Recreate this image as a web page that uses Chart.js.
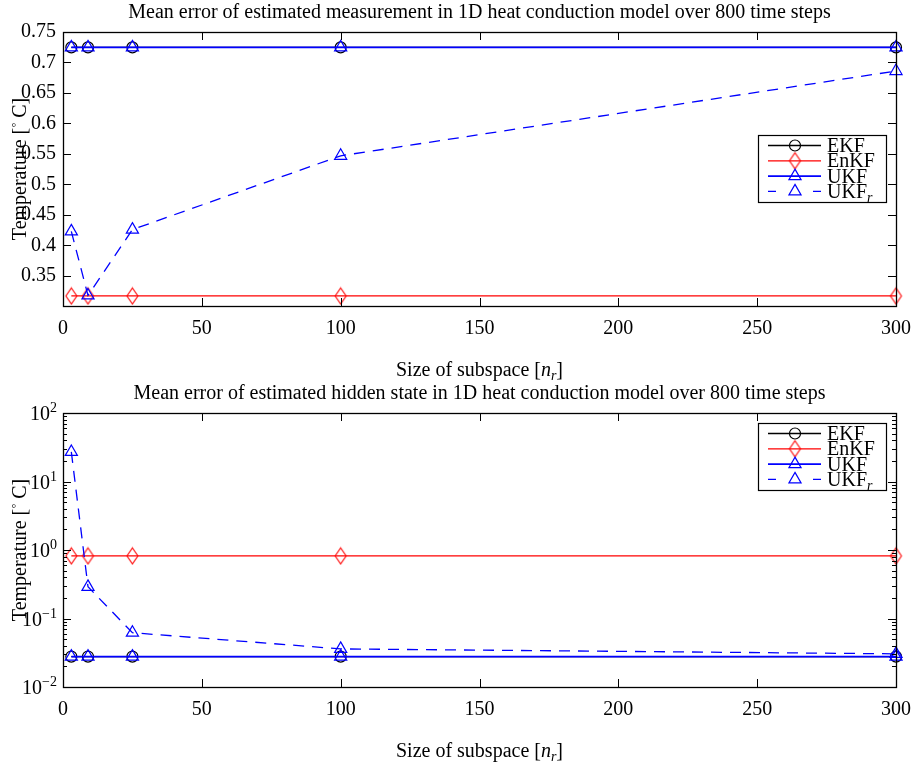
<!DOCTYPE html>
<html>
<head>
<meta charset="utf-8">
<script src="https://cdn.jsdelivr.net/npm/chart.js@4/dist/chart.umd.min.js"></script>
<style>
  html, body { margin: 0; padding: 0; background: #fff; }
  #wrap { position: relative; width: 914px; height: 764px; }
  .pane { position: absolute; left: 0; width: 914px; height: 382px; }
  #p1 { top: 0; }
  #p2 { top: 381px; }
</style>
</head>
<body>
<div id="wrap">
  <div class="pane" id="p1"><canvas id="c1"></canvas></div>
  <div class="pane" id="p2"><canvas id="c2"></canvas></div>
</div>
<script>
// Subspace sizes n_r
const subspaceSizes = [3, 9, 25, 100, 300];

// Mean error of estimated measurement [°C]
const measEKF  = [0.7248, 0.7248, 0.7248, 0.7248, 0.7248];
const measEnKF = [0.3172, 0.3172, 0.3172, 0.3172, 0.3172];
const measUKF  = [0.7248, 0.7248, 0.7248, 0.7248, 0.7248];
const measUKFr = [0.423, 0.318, 0.426, 0.547, 0.686];

// Mean error of estimated hidden state [°C]
const hiddenEKF  = [0.0278, 0.0278, 0.0278, 0.0278, 0.0278];
const hiddenEnKF = [0.82, 0.82, 0.82, 0.82, 0.82];
const hiddenUKF  = [0.0278, 0.0278, 0.0278, 0.0278, 0.0278];
const hiddenUKFr = [27, 0.29, 0.062, 0.036, 0.0305];

// Tick values
const xTicks = [0, 50, 100, 150, 200, 250, 300];
const measTicks = [0.35, 0.4, 0.45, 0.5, 0.55, 0.6, 0.65, 0.7, 0.75];
const hiddenTicks = [0.01, 0.1, 1, 10, 100];
const hiddenTickExponents = ['\u22122', '\u22121', '0', '1', '2'];

const FONT = "'Liberation Serif', 'DejaVu Serif', serif";
const TXT = 20;
Chart.defaults.font.family = FONT;
Chart.defaults.font.size = TXT;
Chart.defaults.color = '#000';
Chart.defaults.animation = false;

// Tall diamond marker for EnKF
function diamondMarker(color) {
  const c = document.createElement('canvas');
  c.width = 15; c.height = 19;
  const g = c.getContext('2d');
  g.strokeStyle = color; g.lineWidth = 1.1;
  g.beginPath();
  g.moveTo(7.5, 1.5); g.lineTo(13, 9.5); g.lineTo(7.5, 17.5); g.lineTo(2, 9.5); g.closePath();
  g.stroke();
  return c;
}
const redDiamond = diamondMarker('#ff0000');

// Draws a row of text pieces (plain, italic, subscript, superscript)
function richText(ctx, parts, x, y, size, align) {
  const small = p => p.sub || p.sup;
  const fontOf = p => (p.italic ? 'italic ' : '') + Math.round(small(p) ? size * 0.7 : size) + 'px ' + FONT;
  let total = 0;
  parts.forEach(p => { ctx.font = fontOf(p); total += ctx.measureText(p.t).width; });
  let cx = align === 'left' ? x : align === 'right' ? x - total : x - total / 2;
  ctx.textAlign = 'left';
  ctx.textBaseline = 'alphabetic';
  parts.forEach(p => {
    ctx.font = fontOf(p);
    const dy = p.sub ? size * 0.22 : p.sup ? -size * 0.4 : 0;
    ctx.fillText(p.t, cx, y + dy);
    cx += ctx.measureText(p.t).width;
  });
}

// Box frame with inward tick marks on all four sides
const frameTicks = {
  id: 'frameTicks',
  afterDatasetsDraw(chart, args, opts) {
    const { ctx, chartArea: a, scales } = chart;
    const seg = (x1, y1, x2, y2) => { ctx.beginPath(); ctx.moveTo(x1, y1); ctx.lineTo(x2, y2); ctx.stroke(); };
    ctx.save();
    ctx.strokeStyle = '#000';
    ctx.lineWidth = 1;
    const L = 8;
    scales.x.ticks.forEach(t => {
      const px = Math.round(scales.x.getPixelForValue(t.value)) + 0.5;
      seg(px, a.bottom, px, a.bottom - L);
      seg(px, a.top, px, a.top + L);
    });
    scales.y.ticks.forEach(t => {
      const py = Math.round(scales.y.getPixelForValue(t.value)) + 0.5;
      seg(a.left, py, a.left + L, py);
      seg(a.right, py, a.right - L, py);
    });
    if (opts.minorLog) {
      for (let e = -2; e < 2; e++) {
        for (let m = 2; m <= 9; m++) {
          const py = Math.round(scales.y.getPixelForValue(m * Math.pow(10, e))) + 0.5;
          seg(a.left, py, a.left + 4, py);
          seg(a.right, py, a.right - 4, py);
        }
      }
      // power-of-ten labels with raised exponents
      ctx.fillStyle = '#000';
      scales.y.ticks.forEach((t, i) => {
        const py = scales.y.getPixelForValue(t.value);
        richText(ctx, [{ t: '10' }, { t: hiddenTickExponents[i], sup: true }], a.left - 6, py + 7, TXT, 'right');
      });
    }
    ctx.lineWidth = 1.3;
    ctx.strokeRect(Math.round(a.left) + 0.5, Math.round(a.top) + 0.5, Math.round(a.right - a.left), Math.round(a.bottom - a.top));
    ctx.restore();
  }
};

// Chart title and axis titles
const titles = {
  id: 'titles',
  afterDraw(chart, args, opts) {
    const { ctx, chartArea: a } = chart;
    const cx = (a.left + a.right) / 2;
    ctx.save();
    ctx.fillStyle = '#000';
    richText(ctx, [{ t: opts.title }], cx, a.top - 14, TXT);
    richText(ctx, [{ t: 'Size of subspace [' }, { t: 'n', italic: true }, { t: 'r', italic: true, sub: true }, { t: ']' }],
      cx, a.bottom + 70, TXT);
    ctx.translate(26, (a.top + a.bottom) / 2);
    ctx.rotate(-Math.PI / 2);
    richText(ctx, [{ t: 'Temperature [' }, { t: '\u25E6', sup: true }, { t: ' C]' }], 0, 0, TXT);
    ctx.restore();
  }
};

// Framed legend with line sample and marker for each series
const boxLegend = {
  id: 'boxLegend',
  afterDraw(chart, args, opts) {
    const { ctx, chartArea: a } = chart;
    const w = 128, h = 67;
    const x0 = a.right - 10 - w;
    const y0 = a.top + opts.offsetTop;
    ctx.save();
    ctx.fillStyle = '#fff';
    ctx.fillRect(x0, y0, w, h);
    ctx.strokeStyle = '#000';
    ctx.lineWidth = 1.2;
    ctx.strokeRect(Math.round(x0) + 0.5, Math.round(y0) + 0.5, w, h);
    chart.data.datasets.forEach((ds, i) => {
      const ry = y0 + 10.5 + i * 15.3;
      ctx.strokeStyle = ds.borderColor;
      ctx.lineWidth = ds.borderWidth;
      ctx.setLineDash(ds.borderDash ? [8, 37] : []);
      ctx.beginPath();
      ctx.moveTo(x0 + 10, ry); ctx.lineTo(x0 + 63, ry);
      ctx.stroke();
      ctx.setLineDash([]);
      ctx.fillStyle = 'rgba(0,0,0,0)';
      ctx.lineWidth = ds.pointBorderWidth;
      Chart.helpers.drawPoint(ctx, {
        pointStyle: ds.pointStyle, radius: ds.pointRadius, rotation: 0, borderWidth: ds.pointBorderWidth
      }, x0 + 37, ry);
      ctx.fillStyle = '#000';
      const parts = ds.label === 'UKFr'
        ? [{ t: 'UKF' }, { t: 'r', italic: true, sub: true }]
        : [{ t: ds.label }];
      richText(ctx, parts, x0 + 69, ry + 6.5, TXT, 'left');
    });
    ctx.restore();
  }
};

function series(label, data, color, style, radius, dashed) {
  return {
    label: label,
    data: data,
    borderColor: color,
    backgroundColor: color,
    borderWidth: label === 'UKF' ? 1.8 : 1.3,
    borderDash: dashed ? [11, 8] : undefined,
    pointStyle: style,
    pointRadius: radius,
    pointHoverRadius: radius,
    pointBorderColor: color,
    pointBackgroundColor: 'rgba(0,0,0,0)',
    pointBorderWidth: 1.2,
    tension: 0,
    clip: false
  };
}

function build(canvasId, sets, yScale, plugOpts) {
  return new Chart(document.getElementById(canvasId), {
    type: 'line',
    data: {
      labels: subspaceSizes,
      datasets: [
        Object.assign(series('EKF', sets[0], '#000000', 'circle', 5.5, false), { order: 4 }),
        Object.assign(series('EnKF', sets[1], '#ff0000', redDiamond, 7, false), { order: 3 }),
        Object.assign(series('UKF', sets[2], '#0000ff', 'triangle', 7, false), { order: 2 }),
        Object.assign(series('UKFr', sets[3], '#0000ff', 'triangle', 7, true), { order: 1 })
      ].map(ds => Object.assign(ds, { data: ds.data.map((v, i) => ({ x: subspaceSizes[i], y: v })) }))
    },
    options: {
      responsive: true,
      maintainAspectRatio: false,
      layout: { padding: { top: 32, right: 18, left: 0, bottom: 0 } },
      plugins: {
        legend: { display: false },
        tooltip: { enabled: false },
        titles: { title: plugOpts.title },
        boxLegend: { offsetTop: plugOpts.legendTop },
        frameTicks: { minorLog: plugOpts.minorLog }
      },
      scales: {
        x: {
          type: 'linear',
          min: 0, max: 300,
          grid: { display: false, drawTicks: false },
          border: { display: false },
          ticks: { padding: 11, maxRotation: 0 },
          afterBuildTicks: s => { s.ticks = xTicks.map(v => ({ value: v })); },
          afterFit: s => { s.height = 76; s.paddingLeft = 0; s.paddingRight = 0; }
        },
        y: yScale
      }
    },
    plugins: [frameTicks, titles, boxLegend]
  });
}

build('c1', [measEKF, measEnKF, measUKF, measUKFr], {
  type: 'linear',
  min: 0.3007, max: 0.75,
  grid: { display: false, drawTicks: false },
  border: { display: false },
  ticks: { padding: 7, callback: v => String(+v.toFixed(2)) },
  afterBuildTicks: s => { s.ticks = measTicks.map(v => ({ value: v })); },
  afterFit: s => { s.width = 63; s.paddingTop = 0; s.paddingBottom = 0; }
}, { title: 'Mean error of estimated measurement in 1D heat conduction model over 800 time steps', legendTop: 103, minorLog: false });

build('c2', [hiddenEKF, hiddenEnKF, hiddenUKF, hiddenUKFr], {
  type: 'logarithmic',
  min: 0.01, max: 100,
  grid: { display: false, drawTicks: false },
  border: { display: false },
  ticks: { display: false },
  afterBuildTicks: s => { s.ticks = hiddenTicks.map(v => ({ value: v })); },
  afterFit: s => { s.width = 63; s.paddingTop = 0; s.paddingBottom = 0; }
}, { title: 'Mean error of estimated hidden state in 1D heat conduction model over 800 time steps', legendTop: 10, minorLog: true });
</script>
</body>
</html>
